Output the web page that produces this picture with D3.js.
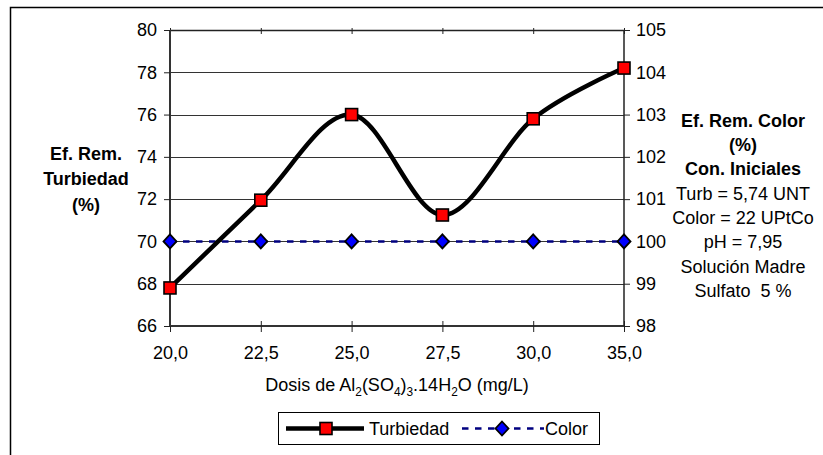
<!DOCTYPE html>
<html><head><meta charset="utf-8">
<script src="https://cdn.jsdelivr.net/npm/d3@7"></script>
<style>
body{margin:0;background:#fff;}
svg text{font-family:"Liberation Sans",Arial,sans-serif;fill:#000;white-space:pre;}
</style></head>
<body><svg id="c" width="823" height="455"></svg>
<script>
const categories = ["20,0","22,5","25,0","27,5","30,0","35,0"];
const turbiedad = [67.8, 71.95, 76.0, 71.25, 75.8, 78.2];
const color = [100, 100, 100, 100, 100, 100];
const leftTicks = [66,68,70,72,74,76,78,80];
const rightTicks = [98,99,100,101,102,103,104,105];
const leftTitle = ["Ef. Rem.","Turbiedad","(%)"];
const rightBold = ["Ef. Rem. Color","(%)","Con. Iniciales"];
const rightNotes = ["Turb = 5,74 UNT","Color = 22 UPtCo","pH = 7,95","Solución Madre","Sulfato  5 %"];

const svg = d3.select("#c");
const L=170, R=624, T=30, B=326;
const FS = 18;
const FF = "Liberation Sans, Arial, sans-serif";

// outer frame
svg.append("rect").attr("x",10.5).attr("y",7.5).attr("width",900).attr("height",600)
  .attr("fill","none").attr("stroke","#000").attr("stroke-width",1.5);

const x = d3.scalePoint().domain(categories).range([L,R]).padding(0);
const yL = d3.scaleLinear().domain([66,80]).range([B,T]);
const yR = d3.scaleLinear().domain([98,105]).range([B,T]);

// gridlines
svg.append("g").selectAll("line").data(leftTicks.filter(d=>d>66 && d<80)).join("line")
  .attr("x1",L).attr("x2",R).attr("y1",d=>Math.round(yL(d))+0.5).attr("y2",d=>Math.round(yL(d))+0.5)
  .attr("stroke","#333").attr("stroke-width",1);

// top axis line with small ticks
svg.append("line").attr("x1",L).attr("x2",R).attr("y1",T+0.5).attr("y2",T+0.5).attr("stroke","#222").attr("stroke-width",1.3);
svg.append("g").selectAll("line").data(categories).join("line")
  .attr("x1",d=>x(d)+0.5).attr("x2",d=>x(d)+0.5).attr("y1",T-2).attr("y2",T+4).attr("stroke","#222");

// bottom axis
const gx = svg.append("g").attr("transform",`translate(0,${B})`)
  .call(d3.axisBottom(x).tickSize(6));
gx.select(".domain").attr("stroke","#333").attr("stroke-width",2).attr("d",`M${L},0H${R}`);
gx.selectAll(".tick line").attr("y1",-5).attr("y2",6).attr("stroke","#222");
gx.selectAll(".tick text").attr("y",33).attr("dy",0).attr("font-size",FS).attr("font-family",FF).attr("fill","#000");

// left axis
const gl = svg.append("g").attr("transform",`translate(${L},0)`)
  .call(d3.axisLeft(yL).tickValues(leftTicks).tickSize(6).tickPadding(7).tickFormat(d3.format("d")));
gl.select(".domain").attr("stroke","#333").attr("stroke-width",2).attr("d",`M0,${T}V${B}`);
gl.selectAll(".tick line").attr("stroke","#222");
gl.selectAll(".tick text").attr("font-size",FS).attr("font-family",FF).attr("fill","#000");

// right axis
const gr = svg.append("g").attr("transform",`translate(${R},0)`)
  .call(d3.axisRight(yR).tickValues(rightTicks).tickSize(6).tickPadding(6).tickFormat(d3.format("d")));
gr.select(".domain").attr("stroke","#222").attr("stroke-width",1.5).attr("d",`M0,${T}V${B}`);
gr.selectAll(".tick line").attr("stroke","#222");
gr.selectAll(".tick text").attr("font-size",FS).attr("font-family",FF).attr("fill","#000");

// Color series
const dia = "M0,-7L6.5,0L0,7L-6.5,0Z";
const lineC = d3.line().x((d,i)=>x(categories[i])).y(d=>yR(d));
svg.append("path").datum(color).attr("d",lineC).attr("fill","none")
  .attr("stroke","#000080").attr("stroke-width",2.4).attr("stroke-dasharray","6.5,6.5");
svg.append("g").selectAll("path").data(color).join("path")
  .attr("transform",(d,i)=>`translate(${x(categories[i])},${yR(d)})`)
  .attr("d",dia).attr("fill","#0000ff").attr("stroke","#000").attr("stroke-width",1.8);

// Turbiedad series
const lineT = d3.line().x((d,i)=>x(categories[i])).y(d=>yL(d)).curve(d3.curveCatmullRom.alpha(0));
svg.append("path").datum(turbiedad).attr("d",lineT).attr("fill","none")
  .attr("stroke","#000").attr("stroke-width",4.5);
svg.append("g").selectAll("rect").data(turbiedad).join("rect")
  .attr("x",(d,i)=>x(categories[i])-6).attr("y",d=>yL(d)-6).attr("width",12).attr("height",12)
  .attr("fill","#ff0000").attr("stroke","#000").attr("stroke-width",1.6);

// x title with subscripts
const xt = svg.append("text").attr("x",397).attr("y",391).attr("text-anchor","middle").attr("font-size",FS);
const parts = [["Dosis de Al",0],["2",1],["(SO",0],["4",1],[")",0],["3",1],[".14H",0],["2",1],["O (mg/L)",0]];
parts.forEach(([t,s],i)=>{
  const ts = xt.append("tspan").text(t);
  if (s) ts.attr("font-size",FS*0.66).attr("dy",5);
  else if (i>0 && parts[i-1][1]) ts.attr("dy",-5);
});

// left title
svg.append("g").selectAll("text").data(leftTitle).join("text")
  .attr("x",86).attr("y",(d,i)=>159.5+i*25.5).attr("text-anchor","middle")
  .attr("font-size",FS).attr("font-weight","bold").text(d=>d);

// right notes
svg.append("g").selectAll("text").data(rightBold).join("text")
  .attr("x",743).attr("y",(d,i)=>126.5+i*24.35).attr("text-anchor","middle")
  .attr("font-size",FS).attr("font-weight","bold").text(d=>d);
svg.append("g").selectAll("text").data(rightNotes).join("text")
  .attr("x",743).attr("y",(d,i)=>126.5+(i+3)*24.35).attr("text-anchor","middle")
  .attr("font-size",FS).text(d=>d);

// legend
const lg = svg.append("g");
lg.append("rect").attr("x",278.5).attr("y",412.5).attr("width",321).attr("height",32)
  .attr("fill","#fff").attr("stroke","#000").attr("stroke-width",1);
lg.append("line").attr("x1",286).attr("x2",364).attr("y1",428.5).attr("y2",428.5).attr("stroke","#000").attr("stroke-width",4.5);
lg.append("rect").attr("x",320).attr("y",422.5).attr("width",12).attr("height",12).attr("fill","#ff0000").attr("stroke","#000").attr("stroke-width",1.6);
lg.append("text").attr("x",369).attr("y",435).attr("font-size",FS).text("Turbiedad");
lg.append("line").attr("x1",462).attr("x2",544).attr("y1",428.5).attr("y2",428.5).attr("stroke","#000080").attr("stroke-width",2.4).attr("stroke-dasharray","6.5,6.5");
lg.append("path").attr("transform","translate(502,428.5)").attr("d",dia).attr("fill","#0000ff").attr("stroke","#000").attr("stroke-width",1.8);
lg.append("text").attr("x",545).attr("y",435).attr("font-size",FS).text("Color");
</script></body></html>
